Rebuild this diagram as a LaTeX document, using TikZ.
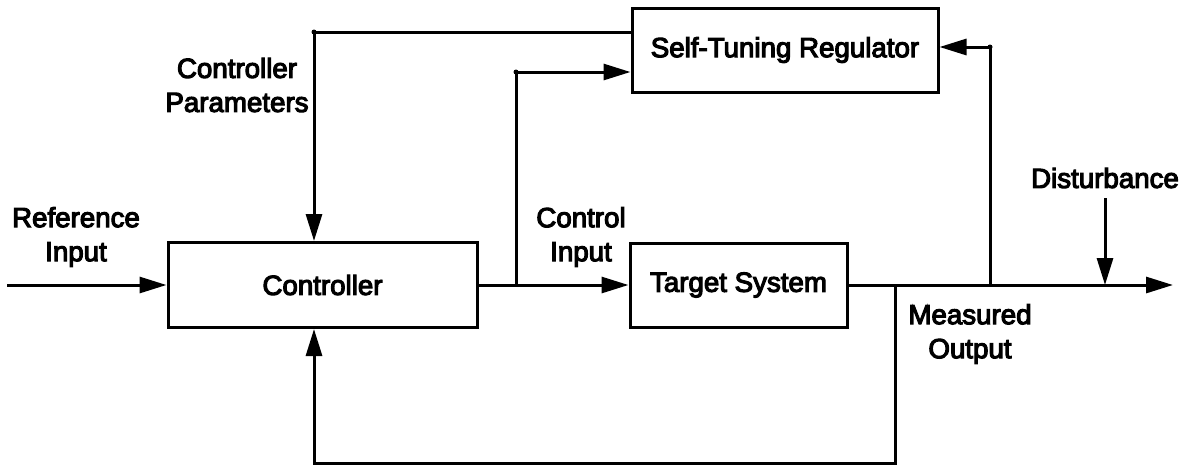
\documentclass[tikz,border=0pt]{standalone}
\usepackage{fontspec}
\newfontfamily\labelfont{Liberation Sans}[FakeBold=4]
\usetikzlibrary{arrows.meta}

\begin{document}
\begin{tikzpicture}[x=1pt, y=-1pt,
  line width=3pt,
  box/.style={draw, rectangle, inner sep=0pt, font=\labelfont\fontsize{27.7pt}{34pt}\selectfont},
  lbl/.style={align=center, inner sep=0pt, font=\labelfont\fontsize{27.7pt}{34pt}\selectfont},
  arr/.style={-{Triangle[length=27pt, width=16pt]}},
  jdot/.style={fill, circle, inner sep=0pt, minimum size=5pt}]

  \useasboundingbox (0,0) rectangle (1184,467);

  % blocks
  \node[box, minimum width=309pt, minimum height=85pt] (ctrl)  at (322.5,285) {Controller};
  \node[box, minimum width=217pt, minimum height=84pt] (plant) at (738.5,285) {Target System};
  \node[box, minimum width=306pt, minimum height=84pt] (str)   at (785,50)    {Self-Tuning Regulator};

  % helper points
  \coordinate (refin) at (7,285);
  \coordinate (ju)    at (516,285);
  \coordinate (jo)    at (990,285);
  \coordinate (jm)    at (895,285);
  \coordinate (out)   at (1173,285);
  \coordinate (tl)    at (314,32);
  \coordinate (dist)  at (1105,198);
  \coordinate (ylo)   at (0,72);
  \coordinate (yhi)   at (0,47);
  \coordinate (ybot)  at (0,463);

  % forward path
  \draw[arr] (refin) -- (ctrl.west);
  \draw[arr] (ctrl.east) -- (plant.west);
  \draw[arr] (plant.east) -- (out);

  % control input to the regulator
  \draw[arr] (ju) |- (str.west |- ylo);
  % measured output to the regulator
  \draw[arr] (jo) |- (str.east |- yhi);
  % controller parameters
  \draw[arr] (str.west |- tl) -| (ctrl.north -| tl);
  % measured output fed back to the controller
  \draw[arr] (jm) |- (tl |- ybot) -- (ctrl.south -| tl);
  % disturbance
  \draw[arr] (dist) -- (dist |- out);

  % corner dots
  \node[jdot] (d1) at (tl) {};
  \node[jdot] (d2) at (ju |- ylo) {};
  \node[jdot] (d3) at (jo |- yhi) {};

  % labels
  \node[lbl] (lpar)  at (237,85)   {Controller\\Parameters};
  \node[lbl] (lref)  at (76,237)   {Reference\\Input};
  \node[lbl] (lcin)  at (581,237)  {Control\\Input};
  \node[lbl] (lmeas) at (970,334)  {Measured\\Output};
  \node[lbl] (ldist) at (1105,178) {Disturbance};
\end{tikzpicture}
\end{document}
